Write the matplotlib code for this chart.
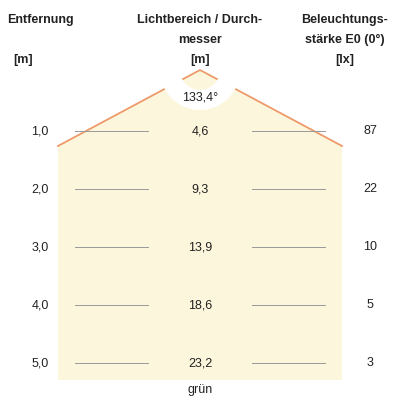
import matplotlib.pyplot as plt
from matplotlib.patches import Polygon, Wedge
import numpy as np

distances = ["1,0", "2,0", "3,0", "4,0", "5,0"]
diameters = ["4,6", "9,3", "13,9", "18,6", "23,2"]
lux = ["87", "22", "10", "5", "3"]
angle_label = "133,4°"

fig = plt.figure(figsize=(4, 4), dpi=100)
ax = fig.add_axes([0, 0, 1, 1])
ax.set_xlim(0, 400)
ax.set_ylim(400, 0)
ax.axis('off')

yellow = '#fcf7dc'
orange = '#ee9a6a'
apex = (200, 70)
shape = [(58, 146), apex, (342, 146), (342, 380), (58, 380)]
ax.add_patch(Polygon(shape, closed=True, fc=yellow, ec='none', zorder=1))
ax.plot([58, 200, 342], [146, 70, 146], color=orange, lw=1.3, zorder=2)
# weißer Ring um die Spitze
ax.add_patch(Wedge(apex, 40, 0, 360, width=20, fc='white', ec='none', zorder=3))

f = dict(fontsize=9, family='Liberation Sans', color='#222')
fb = dict(fontsize=9, family='Liberation Sans', fontweight='bold', color='#222')
ax.text(7, 20, "Entfernung", ha='left', va='center', **fb)
ax.text(23, 60, "[m]", ha='center', va='center', **fb)
for i, s in enumerate(["Lichtbereich / Durch-", "messer", "[m]"]):
    ax.text(200, 20 + 20 * i, s, ha='center', va='center', **fb)
for i, s in enumerate(["Beleuchtungs-", "stärke E0 (0°)", "[lx]"]):
    ax.text(345, 20 + 20 * i, s, ha='center', va='center', **fb)
ax.text(200, 98, angle_label, ha='center', va='center', zorder=4, **f)

ys = 131 + 58 * np.arange(len(distances))
for y, d, m, l in zip(ys, distances, diameters, lux):
    ax.text(40, y, d, ha='center', va='center', **f)
    ax.text(200, y, m, ha='center', va='center', **f)
    ax.text(370, y, l, ha='center', va='center', **f)
    ax.plot([75, 148], [y, y], color='#999', lw=0.7, zorder=2)
    ax.plot([252, 325], [y, y], color='#999', lw=0.7, zorder=2)

ax.text(200, 390, "grün", ha='center', va='center', **f)
fig.savefig('out.png', dpi=100)
